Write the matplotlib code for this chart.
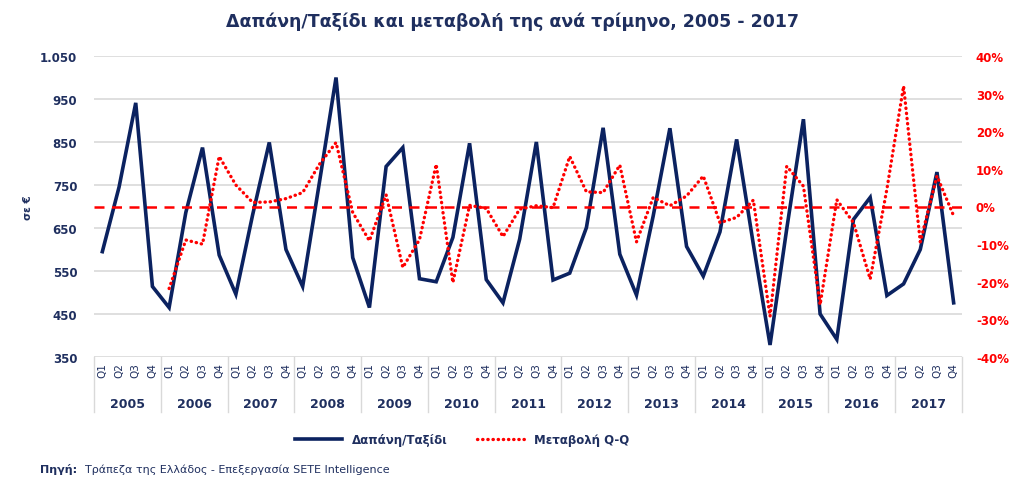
import matplotlib
matplotlib.use("Agg")
import matplotlib.pyplot as plt
import matplotlib.transforms as mtransforms
import numpy as np

years = ['2005', '2006', '2007', '2008', '2009', '2010', '2011',
         '2012', '2013', '2014', '2015', '2016', '2017']
quarters = ['Q1', 'Q2', 'Q3', 'Q4']

# spending per trip (euro), quarterly
spend = [595, 745, 941, 514,
         465, 686, 837, 587,
         496, 680, 849, 600,
         514, 755, 1000, 581,
         465, 793, 837, 532,
         525, 628, 847, 530,
         476, 624, 850, 529,
         545, 651, 883, 589,
         494, 678, 882, 607,
         538, 641, 856, 612,
         378, 648, 903, 450,
         391, 670, 721, 493,
         520, 600, 780, 476]

# change (%), no values for 2005
change = [None, None, None, None,
          -21.8, -8.9, -10.0, 13.3,
          5.7, 1.1, 1.2, 2.1,
          3.7, 11.2, 17.0, -1.6,
          -9.1, 3.1, -16.2, -8.8,
          11.2, -20.2, 0.3, -0.5,
          -8.0, -0.7, 0.2, -0.3,
          13.3, 3.9, 3.7, 11.0,
          -9.4, 2.4, 0.2, 2.8,
          8.1, -4.3, -2.9, 1.7,
          -29.2, 10.7, 5.4, -26.1,
          1.8, -4.3, -19.3, 4.6,
          32.0, -9.4, 8.1, -2.5]

navy = '#0B2260'
text_navy = '#1F2F5F'
red = '#FF0000'
grid = '#D9D9D9'

plt.rcParams['font.family'] = ['DejaVu Sans']

fig = plt.figure(figsize=(10.24, 4.89), dpi=100)
ax = fig.add_axes([94 / 1024, 1 - 358 / 489, 868 / 1024, 301 / 489])
ax2 = ax.twinx()

x = np.arange(len(spend))
labels = [q for y in years for q in quarters]

ax.plot(x, spend, color=navy, lw=2.6, solid_joinstyle='miter', label='Δαπάνη/Ταξίδι')
ch = np.array([np.nan if v is None else v / 100 for v in change])
ax2.plot(x, ch, color=red, lw=2.4, linestyle=(0, (0.1, 1.45)),
         dash_capstyle='round', label='Μεταβολή Q-Q')
ax2.axhline(0, color=red, lw=1.8, linestyle=(0, (4, 3)))

ax.set_xlim(-0.5, len(spend) - 0.5)
ax.set_ylim(350, 1050)
ax.set_yticks(np.arange(350, 1051, 100))
ax.set_yticklabels([f'{v:,}'.replace(',', '.') for v in range(350, 1051, 100)],
                   fontsize=8.5, fontweight='bold', color=text_navy)
ax.yaxis.grid(True, color=grid, lw=1.2)
ax.set_axisbelow(True)
ax.tick_params(axis='y', length=0, pad=12)

ax2.set_ylim(-0.4, 0.4)
ax2.set_yticks(np.arange(-0.4, 0.41, 0.1))
ax2.set_yticklabels([f'{round(v * 100):d}%' for v in np.arange(-0.4, 0.41, 0.1)],
                    fontsize=8.5, fontweight='bold', color=red)
ax2.tick_params(axis='y', length=0, pad=10)

ax.set_xticks(x)
ax.set_xticklabels(labels, rotation=90, fontsize=7.5, color=text_navy)
ax.tick_params(axis='x', length=0, pad=4)

for a in (ax, ax2):
    for s in a.spines.values():
        s.set_visible(False)

ax.set_ylabel('σε €', fontsize=7.5, fontweight='bold', color=text_navy, labelpad=5)

trans = mtransforms.blended_transform_factory(ax.transData, ax.transAxes)
for i, yr in enumerate(years):
    ax.text(i * 4 + 1.5, -0.156, yr, transform=trans, ha='center', va='center',
            fontsize=9, fontweight='bold', color=text_navy)
for b in np.arange(-0.5, len(spend), 4):
    ax.plot([b, b], [0, -0.183], transform=trans, clip_on=False, color=grid, lw=1)

fig.text(512 / 1024, 1 - 22 / 489, 'Δαπάνη/Ταξίδι και μεταβολή της ανά τρίμηνο, 2005 - 2017',
         ha='center', va='center', fontsize=12.5, fontweight='bold', color=text_navy)

h1, l1 = ax.get_legend_handles_labels()
h2, l2 = ax2.get_legend_handles_labels()
leg = fig.legend(h1 + h2, l1 + l2, loc='center', bbox_to_anchor=(462 / 1024, 1 - 441 / 489),
                 ncol=2, frameon=False, handlelength=4, columnspacing=2.5,
                 prop={'size': 8.5, 'weight': 'bold'})
for t in leg.get_texts():
    t.set_color(text_navy)

fig.text(40 / 1024, 1 - 470 / 489, 'Πηγή:', ha='left', va='center',
         fontsize=8, fontweight='bold', color=text_navy)
fig.text(85 / 1024, 1 - 470 / 489, 'Τράπεζα της Ελλάδος - Επεξεργασία SETE Intelligence',
         ha='left', va='center', fontsize=8, color=text_navy)

fig.savefig('out.png', dpi=100)
